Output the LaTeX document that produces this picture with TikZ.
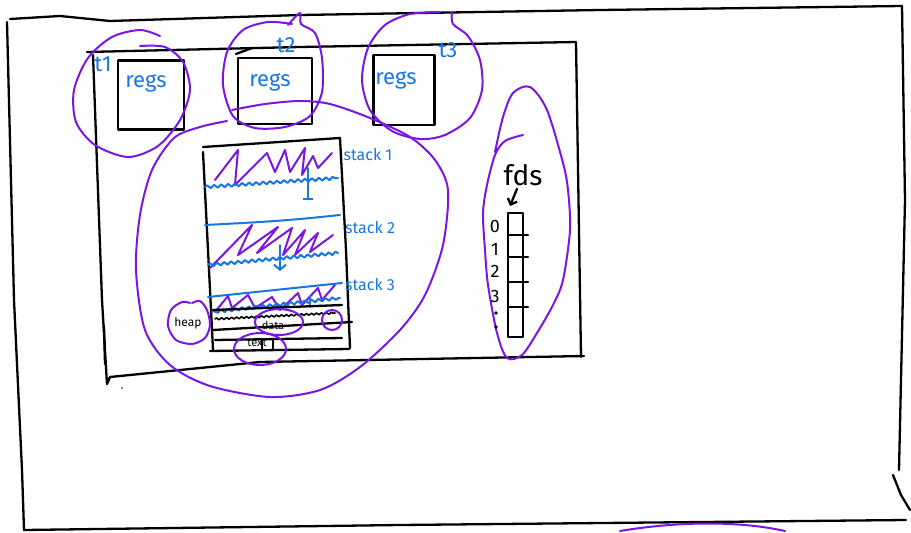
\documentclass[tikz,border=0pt]{standalone}
\usepackage{fontspec}
\setsansfont{Fira Sans}
\usetikzlibrary{positioning,arrows.meta,decorations.pathmorphing,calc}
\definecolor{inkblue}{RGB}{22,118,228}
\definecolor{inkpurple}{RGB}{122,22,228}

\begin{document}
\begin{tikzpicture}[x=1pt, y=-1pt, line cap=round, line join=round,
    pen/.style={black, line width=2.3pt},
    loop/.style={inkpurple, line width=2pt},
    zig/.style={inkpurple, line width=2pt},
    blueline/.style={inkblue, line width=2pt},
    wave/.style={inkblue, line width=2pt, decorate,
        decoration={snake, amplitude=1.5pt, segment length=7pt}},
    regsbox/.style={draw, black, line width=2.3pt, inner sep=0pt},
    bluetext/.style={inkblue, font=\sffamily\fontsize{22}{22}\selectfont, inner sep=0pt},
    stacktext/.style={inkblue, font=\sffamily\fontsize{16}{16}\selectfont, inner sep=0pt},
    inktext/.style={black, font=\sffamily\fontsize{12}{12}\selectfont, inner sep=0pt},
    fdtext/.style={black, font=\sffamily\fontsize{18}{18}\selectfont, inner sep=0pt}]
    \useasboundingbox (0,0) rectangle (911,533);

    % machine
    \draw[pen] (10,19) -- (60,16) -- (110,21) -- (300,15) -- (600,10) -- (902,6);
    \draw[pen] (7,22) -- (14,300) -- (22,470) -- (24,530);
    \draw[pen] (24,530) -- (400,525) -- (906,520);
    \draw[pen] (902,6) -- (905,200) -- (899,470);
    \draw[pen] (893,475) -- (901,495) -- (910,510);

    % process
    \draw[pen] (87,52) -- (300,47) -- (576,42) -- (581,357);
    \draw[pen] (93,55) -- (102,300) -- (107,384) -- (110,377) -- (260,362) -- (584,356);
    \draw[pen] (104,326) -- (105,364);
    \draw[pen] (236,54) -- (252,48);

    % threads
    \node[regsbox, minimum width=66pt, minimum height=69pt] (regs1) at (151,95) {};
    \node[regsbox, minimum width=74pt, minimum height=66pt] (regs2) at (275,91) {};
    \node[regsbox, minimum width=61pt, minimum height=70pt] (regs3) at (404,90) {};
    \node[bluetext] (regs1txt) at (146,83) {regs};
    \node[bluetext] (regs2txt) at (270,82) {regs};
    \node[bluetext] (regs3txt) at (396,80) {regs};
    \node[bluetext] (t1) at (103,64) {t1};
    \node[bluetext] (t2) at (286,45) {t2};
    \node[bluetext] (t3) at (448,50) {t3};

    \draw[loop] plot[smooth] coordinates {(160,36) (140,30) (112,37) (88,58) (74,90) (76,122) (95,145) (128,157) (158,146) (180,120) (190,90) (183,62) (165,47) (140,46)};
    \draw[loop] plot[smooth] coordinates {(288,25) (300,13) (301,24) (315,33) (322,58) (322,92) (310,116) (285,127) (255,128) (233,116) (223,85) (227,52) (243,30) (268,22) (292,24)};
    \draw[loop] plot[smooth] coordinates {(452,12) (453,24) (468,36) (480,60) (482,90) (470,118) (445,135) (420,139) (392,131) (370,110) (362,80) (368,48) (385,25) (410,14) (440,12)};

    % address space
    \draw[loop] plot[smooth] coordinates {(227,121) (200,127) (174,138) (152,170) (140,215) (136,270) (145,330) (170,365) (210,386) (270,397) (320,390) (360,367) (400,330) (425,295) (443,245) (448,190) (435,160) (410,137) (370,118) (330,104) (300,101) (265,104) (232,110)};
    \draw[pen] (203,147) -- (340,138);
    \draw[pen] (203,152) -- (208,250) -- (213,350);
    \draw[pen] (340,138) -- (346,250) -- (350,348);
    \draw[pen] (210,351) -- (349,349);

    % stack 1
    \draw[zig] (215,180) -- (238,150) -- (235,185) -- (267,153) -- (275,172) -- (285,150) -- (290,172) -- (305,148) -- (302,175) -- (313,156) -- (318,168) -- (332,153);
    \draw[wave] (205,187) -- (338,178);
    \draw[blueline, -{Bar[width=10pt]}] (308,168) -- (308,200);
    \node[stacktext] (stack1) at (368,155) {stack 1};

    % stack 2
    \draw[blueline] plot[smooth] coordinates {(205,225) (260,222) (300,219) (340,215)};
    \draw[zig] (210,268) -- (252,225) -- (238,255) -- (278,227) -- (257,253) -- (292,228) -- (283,255) -- (305,230) -- (295,255) -- (318,233) -- (310,252) -- (333,235);
    \draw[wave] (208,265) -- (338,253);
    \draw[blueline, -{Straight Barb[length=5pt, width=12pt]}] (280,245) -- (280,271);
    \node[stacktext] (stack2) at (370,228) {stack 2};

    % stack 3
    \draw[blueline] (208,297) -- (342,283);
    \draw[zig] (215,312) -- (228,296) -- (232,308) -- (248,295) -- (255,308) -- (272,297) -- (280,310) -- (298,293) -- (302,305) -- (318,288) -- (322,300) -- (335,285);
    \draw[wave] (212,312) -- (340,298);
    \draw[blueline] (310,296) -- (310,307);
    \node[stacktext] (stack3) at (370,285) {stack 3};

    % heap, data, text
    \draw[pen] (213,310) -- (342,305);
    \draw[black, line width=1.6pt, decorate, decoration={snake, amplitude=0.9pt, segment length=5pt}] (215,319) -- (335,313);
    \draw[pen] (213,330) -- (352,322);
    \draw[pen] (215,340) -- (342,338);
    \draw[black, line width=1.5pt] (262,340) -- (262,350);
    \draw[black, line width=1.5pt] (273,340) -- (273,350);
    \node[inktext] (heap) at (188,323) {heap};
    \node[inktext, font=\sffamily\fontsize{11}{11}\selectfont] (data) at (273,325) {data};
    \node[inktext, font=\sffamily\fontsize{11}{11}\selectfont] (text) at (257,343) {text};
    \draw[loop] plot[smooth] coordinates {(192,303) (200,301) (207,310) (210,325) (205,338) (192,344) (176,340) (168,326) (171,310) (182,302) (190,303)};
    \draw[loop] (data.center) ++(6,-3) ellipse (24pt and 13pt);
    \draw[loop] (text.center) ++(3,6) ellipse (26pt and 16pt);
    \draw[loop] (332,320) ellipse (10pt and 10pt);

    % file descriptors
    \draw[loop] plot[smooth] coordinates {(523,135) (505,141) (495,155) (487,185) (483,213) (485,250) (488,285) (497,333) (507,358) (522,355) (537,333) (553,305) (563,280) (570,230) (568,190) (563,163) (547,110) (530,87) (513,93) (503,117) (495,152)};
    \node[black, font=\sffamily\fontsize{28}{28}\selectfont, inner sep=0pt] (fds) at (523,175) {fds};
    \node[draw, black, line width=2.3pt, minimum width=15pt, minimum height=124pt, inner sep=0pt] (fdtab) at (515.5,275) {};
    \foreach \y in {235,257,282,307} {
        \draw[pen] (508,\y) -- (528,\y);
    }
    \draw[pen, -{Straight Barb[length=5pt, width=10pt]}] (fds.south) ++(-6,3) -- (510,206);
    \foreach \n/\y in {0/226, 1/249, 2/271, 3/296} {
        \node[fdtext] (fd\n) at (495,\y) {\n};
    }
    \fill[black] (496,313) circle (1.8pt);
    \fill[black] (496,327) circle (1.8pt);

    \fill[inkblue] (122,388) circle (1.2pt);
    \draw[loop] (620,531) .. controls (680,521) and (740,521) .. (785,531);
\end{tikzpicture}
\end{document}
